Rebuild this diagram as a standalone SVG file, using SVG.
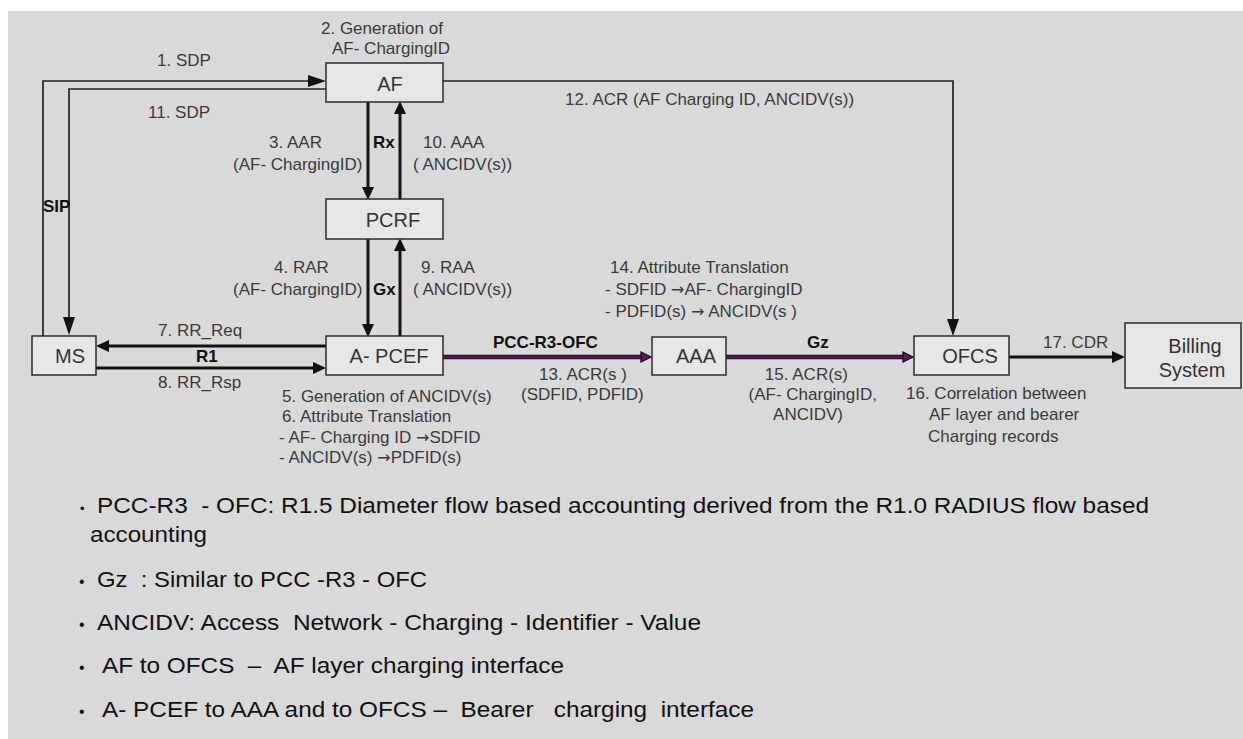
<svg xmlns="http://www.w3.org/2000/svg" width="1243" height="739" viewBox="0 0 1243 739">
<style>
.bg{fill:#d9d9d9}
.box{fill:#e6e6e6;stroke:#2b2b2b;stroke-width:1.5}
.bt{font-family:"Liberation Sans",Arial,sans-serif;font-size:20px;fill:#333;text-anchor:middle}
.lb{font-family:"Liberation Sans",Arial,sans-serif;font-size:17px;fill:#3a3a3a}
.bd{font-family:"Liberation Sans",Arial,sans-serif;font-size:17px;font-weight:bold;fill:#111}
.nt{font-family:"Liberation Sans",Arial,sans-serif;font-size:22px;fill:#111;white-space:pre}
.ar{font-family:"DejaVu Sans",sans-serif;font-size:16px}
.end{text-anchor:end}
.thin{fill:none;stroke:#222;stroke-width:1.7}
.thick{fill:none;stroke:#111;stroke-width:3}
.pout{fill:none;stroke:#1a1a1a;stroke-width:4.5}
.pin{fill:none;stroke:#6a0d6a;stroke-width:2.2}
</style>
<defs>
<marker id="aThin" markerUnits="userSpaceOnUse" markerWidth="18" markerHeight="12" refX="0" refY="6" orient="auto"><path d="M0,0 L18,6 L0,12 Z" fill="#111"/></marker>
<marker id="aThin17" markerUnits="userSpaceOnUse" markerWidth="17" markerHeight="12" refX="0" refY="6" orient="auto"><path d="M0,0 L17,6 L0,12 Z" fill="#111"/></marker>
<marker id="aThick" markerUnits="userSpaceOnUse" markerWidth="13" markerHeight="12" refX="0" refY="6" orient="auto"><path d="M0,0 L13,6 L0,12 Z" fill="#111"/></marker>
<marker id="aPurple" markerUnits="userSpaceOnUse" markerWidth="13" markerHeight="13" refX="1" refY="6.5" orient="auto"><path d="M1,1.5 L11,6.5 L1,11.5 Z" fill="#6a0d6a" stroke="#111" stroke-width="1.3"/></marker>
</defs>
<rect class="bg" x="8" y="11" width="1235" height="728"/>

<g id="connectors">
  <path id="c1-sdp" class="thin" d="M43,336 V81 H308" marker-end="url(#aThin)"/>
  <path id="c11-sdp" class="thin" d="M326,89 H69 V317" marker-end="url(#aThin)"/>
  <path id="c12-acr" class="thin" d="M443,81 H953 V319" marker-end="url(#aThin17)"/>
  <path id="c3-aar" class="thick" d="M368,102 V187" marker-end="url(#aThick)"/>
  <path id="c10-aaa" class="thick" d="M400,199 V114" marker-end="url(#aThick)"/>
  <path id="c4-rar" class="thick" d="M368,239 V324" marker-end="url(#aThick)"/>
  <path id="c9-raa" class="thick" d="M400,336 V251" marker-end="url(#aThick)"/>
  <path id="c7-rrreq" class="thick" d="M326,346 H109" marker-end="url(#aThick)"/>
  <path id="c8-rrrsp" class="thick" d="M96,368 H313" marker-end="url(#aThick)"/>
  <path class="pout" d="M443,357 H642"/>
  <path id="c13-pcc" class="pin" d="M443,357 H641" marker-end="url(#aPurple)"/>
  <path class="pout" d="M726,357 H904"/>
  <path id="c15-gz" class="pin" d="M726,357 H903" marker-end="url(#aPurple)"/>
  <path id="c17-cdr" class="thick" d="M1009,357 H1112" marker-end="url(#aThick)"/>
</g>

<g id="node-af"><rect class="box" x="326" y="63" width="117" height="39"/><text class="bt" x="390" y="91">AF</text></g>
<g id="node-pcrf"><rect class="box" x="326" y="199" width="117" height="40"/><text class="bt" x="393" y="227">PCRF</text></g>
<g id="node-apcef"><rect class="box" x="326" y="336" width="117" height="39"/><text class="bt" x="389" y="363">A- PCEF</text></g>
<g id="node-ms"><rect class="box" x="32" y="336" width="64" height="39"/><text class="bt" x="70" y="363">MS</text></g>
<g id="node-aaa"><rect class="box" x="652" y="337" width="74" height="38"/><text class="bt" x="696" y="363">AAA</text></g>
<g id="node-ofcs"><rect class="box" x="914" y="336" width="95" height="39"/><text class="bt" x="970" y="363">OFCS</text></g>
<g id="node-billing"><rect class="box" x="1125" y="323" width="116" height="65"/><text class="bt" x="1195" y="353">Billing</text><text class="bt" x="1192" y="377">System</text></g>

<g id="labels">
  <text class="lb" x="321" y="34">2. Generation of</text>
  <text class="lb" x="332" y="54">AF- ChargingID</text>
  <text class="lb" x="157" y="66">1. SDP</text>
  <text class="lb" x="148" y="118">11. SDP</text>
  <text class="lb" x="565" y="105">12. ACR (AF Charging ID, ANCIDV(s))</text>
  <text class="lb" x="269" y="148">3. AAR</text>
  <text class="lb" x="233" y="170">(AF- ChargingID)</text>
  <text class="bd" x="373" y="148">Rx</text>
  <text class="lb" x="423" y="148">10. AAA</text>
  <text class="lb" x="413" y="170">( ANCIDV(s))</text>
  <text class="bd" x="43" y="212">SIP</text>
  <text class="lb" x="274" y="273">4. RAR</text>
  <text class="lb" x="233" y="295">(AF- ChargingID)</text>
  <text class="bd" x="373" y="295">Gx</text>
  <text class="lb" x="421" y="273">9. RAA</text>
  <text class="lb" x="413" y="295">( ANCIDV(s))</text>
  <text class="lb" x="610" y="273">14. Attribute Translation</text>
  <text class="lb" x="605" y="295">-  SDFID <tspan class="ar">→</tspan>AF- ChargingID</text>
  <text class="lb" x="605" y="317">-  PDFID(s)  <tspan class="ar">→</tspan> ANCIDV(s )</text>
  <text class="lb" x="158" y="336">7. RR_Req</text>
  <text class="bd" x="196" y="362">R1</text>
  <text class="lb" x="158" y="388">8. RR_Rsp</text>
  <text class="bd" x="493" y="348">PCC-R3-OFC</text>
  <text class="bd" x="807" y="348">Gz</text>
  <text class="lb" x="1043" y="348">17. CDR</text>
  <text class="lb" x="539" y="380">13. ACR(s )</text>
  <text class="lb" x="521" y="400">(SDFID, PDFID)</text>
  <text class="lb end" x="848" y="380">15. ACR(s)</text>
  <text class="lb end" x="877" y="400">(AF- ChargingID,</text>
  <text class="lb end" x="843" y="420">ANCIDV)</text>
  <text class="lb" x="282" y="402">5. Generation of  ANCIDV(s)</text>
  <text class="lb" x="282" y="422">6. Attribute Translation</text>
  <text class="lb" x="279" y="443">- AF- Charging ID  <tspan class="ar">→</tspan>SDFID</text>
  <text class="lb" x="279" y="463">-  ANCIDV(s) <tspan class="ar">→</tspan>PDFID(s)</text>
  <text class="lb" x="906" y="399">16. Correlation between</text>
  <text class="lb" x="929" y="420">AF layer and bearer</text>
  <text class="lb" x="928" y="442">Charging records</text>
</g>

<g id="notes">
  <text class="nt" x="80" y="513" style="font-size:13px">•</text>
  <text class="nt" x="97" y="513" textLength="1052" lengthAdjust="spacingAndGlyphs">PCC-R3  - OFC: R1.5 Diameter flow based accounting derived from the R1.0 RADIUS flow based</text>
  <text class="nt" x="90" y="542" textLength="117" lengthAdjust="spacingAndGlyphs">accounting</text>
  <text class="nt" x="79" y="587" style="font-size:16px">•</text>
  <text class="nt" x="97" y="587" textLength="330" lengthAdjust="spacingAndGlyphs">Gz  : Similar to PCC -R3 - OFC</text>
  <text class="nt" x="79" y="630" style="font-size:16px">•</text>
  <text class="nt" x="97" y="630" textLength="604" lengthAdjust="spacingAndGlyphs">ANCIDV: Access  Network - Charging - Identifier - Value</text>
  <text class="nt" x="79" y="673" style="font-size:16px">•</text>
  <text class="nt" x="102" y="673" textLength="462" lengthAdjust="spacingAndGlyphs">AF to OFCS  –  AF layer charging interface</text>
  <text class="nt" x="79" y="717" style="font-size:16px">•</text>
  <text class="nt" x="102" y="717" textLength="652" lengthAdjust="spacingAndGlyphs">A- PCEF to AAA and to OFCS –  Bearer   charging  interface</text>
</g>
</svg>
